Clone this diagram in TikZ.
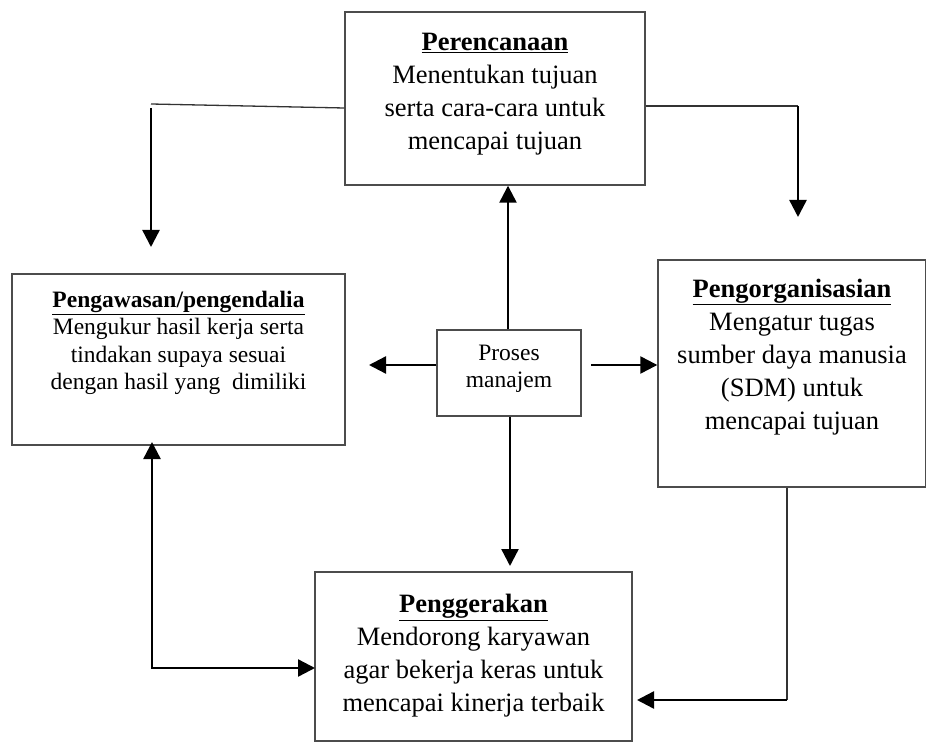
\documentclass[tikz,border=0pt]{standalone}
\usepackage{fontspec}
\setmainfont{Liberation Serif}
\usetikzlibrary{arrows.meta}
\begin{document}
\begin{tikzpicture}[x=1pt,y=-1pt,
  boxst/.style={draw=black!70,line width=1.4pt,fill=white,inner sep=0pt},
  txtbig/.style={align=center,font=\fontsize{26.5}{33}\selectfont,inner sep=0pt},
  txtsmall/.style={align=center,font=\fontsize{23.5}{27.5}\selectfont,inner sep=0pt},
  thinln/.style={line width=1.3pt,draw=black!80},
  arr/.style={line width=2.4pt,-{Triangle[length=17pt,width=17pt]}},
  arrtwo/.style={line width=2.4pt,{Triangle[length=17pt,width=17pt]}-{Triangle[length=17pt,width=17pt]}}
]
\useasboundingbox (0,0) rectangle (926,743);
% boxes
\node[boxst,minimum width=300pt,minimum height=173pt] (plan) at (495,98.5) {};
\node[boxst,minimum width=333pt,minimum height=171pt] (ctrl) at (178.5,359.5) {};
\node[boxst,minimum width=144pt,minimum height=86pt] (proc) at (509,373) {};
\node[boxst,minimum width=268pt,minimum height=227pt] (org) at (792,373.5) {};
\node[boxst,minimum width=317pt,minimum height=169pt] (act) at (473.5,656.5) {};
% texts
\node[txtbig] (plant) at (495,94) {\textbf{\underline{Perencanaan}}\\Menentukan tujuan\\serta cara-cara untuk\\mencapai tujuan};
\node[txtsmall] (ctrlt) at (178.5,343) {\textbf{\underline{Pengawasan/pengendalia}}\\Mengukur hasil kerja serta\\tindakan supaya sesuai\\dengan hasil yang\ \ dimiliki};
\node[txtsmall] (proct) at (509,369) {Proses\\manajem};
\node[txtbig] (orgt) at (792,357) {\textbf{\underline{Pengorganisasian}}\\Mengatur tugas\\sumber daya manusia\\(SDM) untuk\\mencapai tujuan};
\node[txtbig] (actt) at (473.5,656) {\textbf{\underline{Penggerakan}}\\Mendorong karyawan\\agar bekerja keras untuk\\mencapai kinerja terbaik};
% coordinates
\coordinate (lA) at (151,104);
\coordinate (lB) at (151,108);
\coordinate (lT) at (151,247);
\coordinate (rA) at (798,106);
\coordinate (rT) at (798,217);
\coordinate (pL) at (369,365);
\coordinate (pR) at (591,365);
\coordinate (pD) at (510,566);
\coordinate (oA) at (787,700);
\coordinate (oT) at (637,700);
\coordinate (dC) at (152,668);
\coordinate (dTop) at (152,442);
\coordinate (dR) at (315,668);
% connectors
\draw[thinln] (plan.west |- 0,108) -- (lA);
\draw[arr] (lB) -- (lT);
\draw[thinln] (plan.east |- 0,106) -- (rA);
\draw[arr] (rA) -- (rT);
\draw[arr] (proc.north -| 508,0) -- (plan.south -| 508,0);
\draw[arr] (proc.west |- 0,365) -- (pL);
\draw[arr] (pR) -- (org.west |- 0,365);
\draw[arr] (proc.south -| 510,0) -- (pD);
\draw[thinln] (org.south -| 787,0) -- (oA);
\draw[arr] (oA) -- (oT);
\draw[arrtwo] (dTop) -- (dC) -- (dR);
\end{tikzpicture}
\end{document}
